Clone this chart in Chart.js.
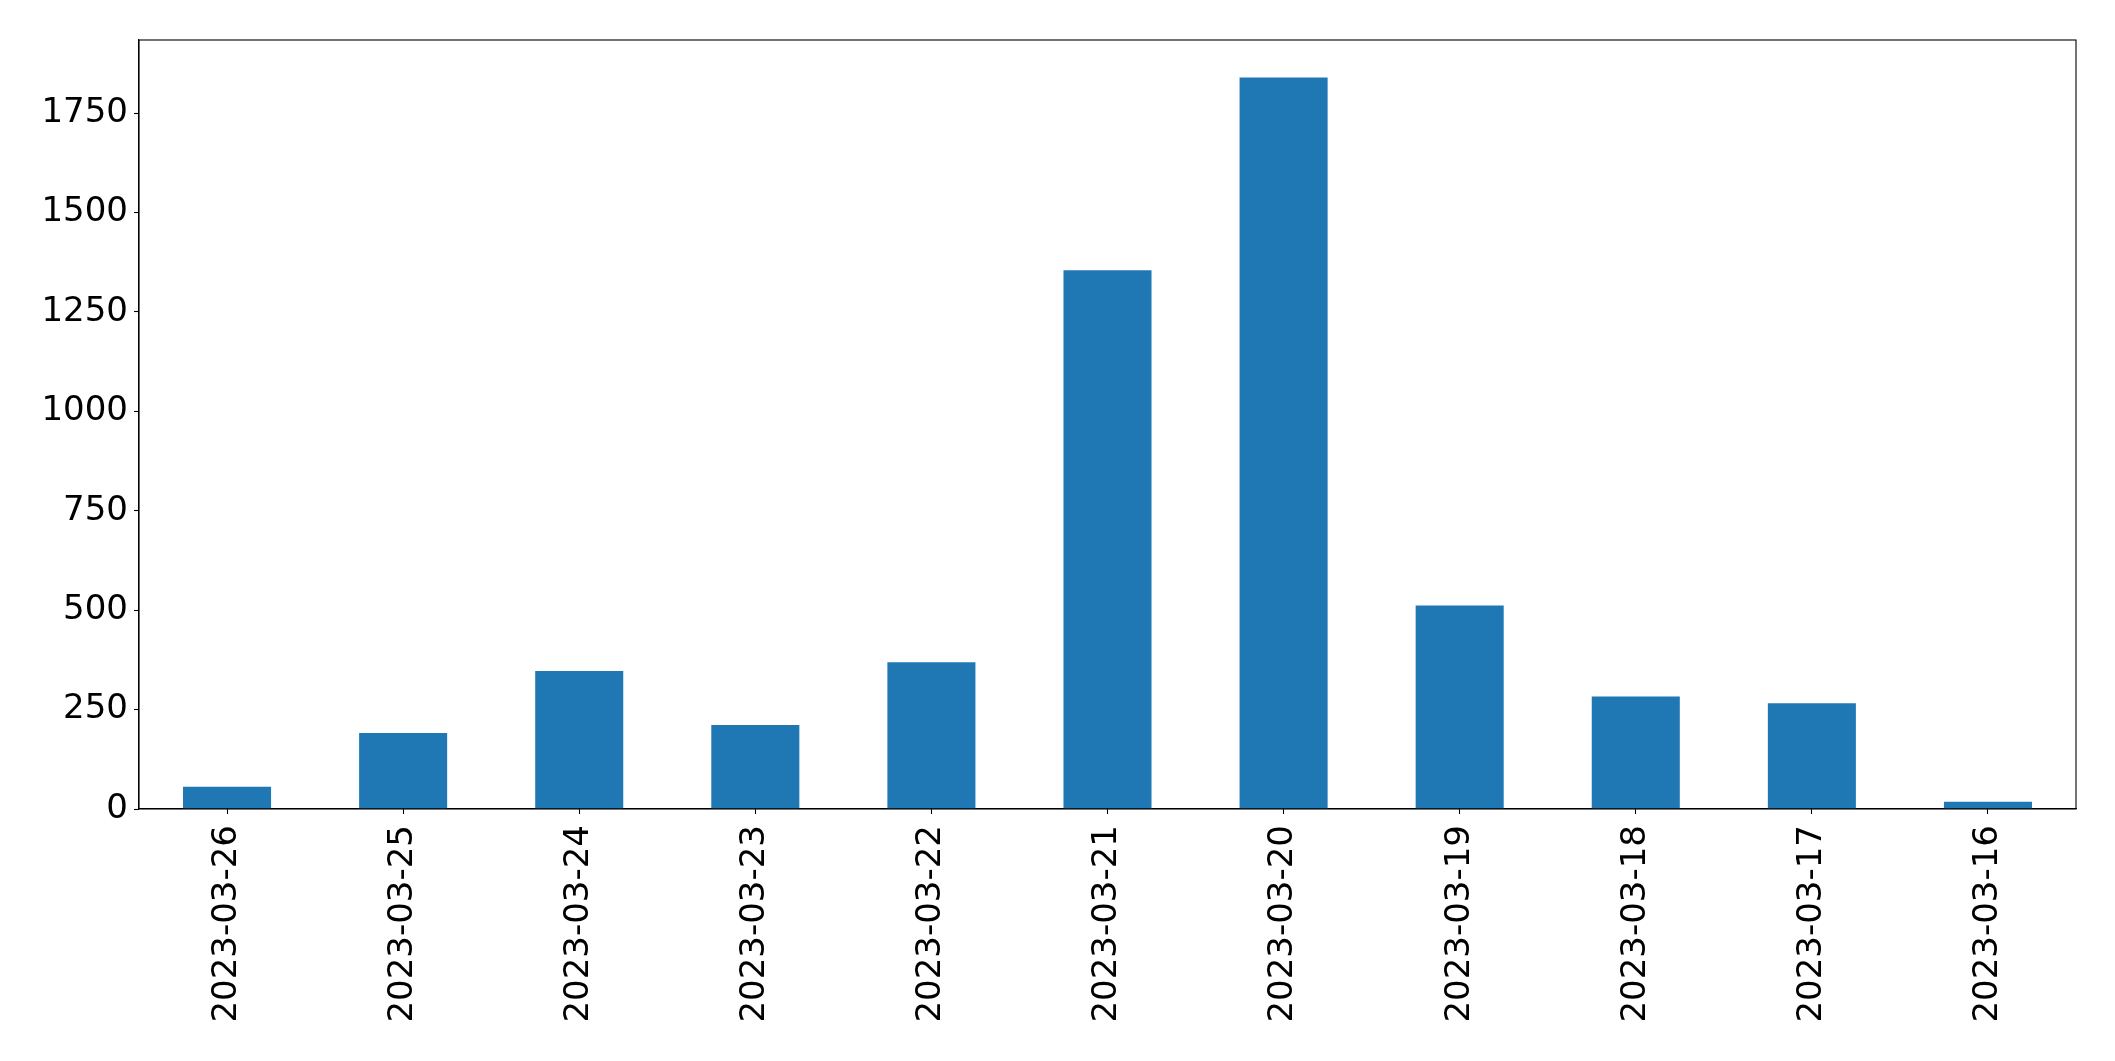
<!DOCTYPE html>
<html>
<head>
<meta charset="utf-8">
<script src="https://cdn.jsdelivr.net/npm/chart.js@4"></script>
<style>
  html, body { margin: 0; padding: 0; background: #fff; }
  #wrap { width: 2115px; height: 1061px; }
</style>
</head>
<body>
<div id="wrap"><canvas id="myChart" width="2115" height="1061"></canvas></div>
<script>
const days = ['2023-03-26', '2023-03-25', '2023-03-24', '2023-03-23', '2023-03-22', '2023-03-21',
              '2023-03-20', '2023-03-19', '2023-03-18', '2023-03-17', '2023-03-16'];
const counts = [56, 191, 347, 211, 369, 1355, 1840, 512, 283, 266, 18];
const yTicks = [0, 250, 500, 750, 1000, 1250, 1500, 1750];

// box around the plot area, like matplotlib spines
const frame = {
    id: 'frame',
    afterDraw(chart) {
        const a = chart.chartArea;
        const c = chart.ctx;
        c.save();
        c.strokeStyle = '#000';
        c.lineWidth = 1.1;
        c.strokeRect(a.left, a.top, a.right - a.left, a.bottom - a.top);
        c.restore();
    }
};

Chart.defaults.font.family = '"DejaVu Sans", sans-serif';
Chart.defaults.color = '#000';

const ctx = document.getElementById('myChart').getContext('2d');
const myChart = new Chart(ctx, {
    type: 'bar',
    data: {
        labels: days,
        datasets: [{
            data: counts,
            backgroundColor: '#1f77b4',
            borderWidth: 0,
            barPercentage: 0.5,
            categoryPercentage: 1.0
        }]
    },
    options: {
        responsive: false,
        animation: false,
        layout: { padding: { top: 40, right: 39, left: 0, bottom: 0 } },
        plugins: { legend: { display: false }, tooltip: { enabled: false } },
        scales: {
            x: {
                grid: { offset: false, drawOnChartArea: false, drawTicks: true, tickLength: 5, tickColor: '#000', tickWidth: 1.1 },
                border: { color: '#000', width: 1.1 },
                ticks: { font: { size: 34 }, maxRotation: 90, minRotation: 90, padding: 11, autoSkip: false },
                afterFit(scale) { scale.height = 252; }
            },
            y: {
                min: 0,
                max: 1934,
                grid: { drawOnChartArea: false, drawTicks: true, tickLength: 5, tickColor: '#000', tickWidth: 1.1 },
                border: { color: '#000', width: 1.1 },
                afterBuildTicks(scale) { scale.ticks = yTicks.map(v => ({ value: v })); },
                ticks: { font: { size: 34 }, padding: 6, callback: v => String(v) },
                afterFit(scale) { scale.width = 139; }
            }
        }
    },
    plugins: [frame]
});
</script>
</body>
</html>
